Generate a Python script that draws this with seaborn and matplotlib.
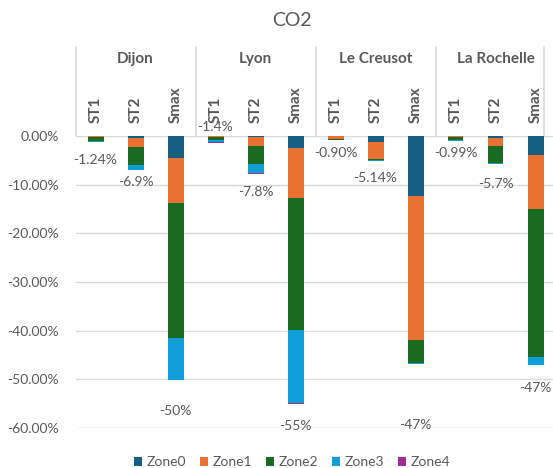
import numpy as np
import pandas as pd
import matplotlib
matplotlib.use("Agg")
import matplotlib.pyplot as plt
from matplotlib.patches import Patch
import seaborn as sns

# ---- data -------------------------------------------------------------
sites = ["Dijon", "Lyon", "Le Creusot", "La Rochelle"]
scenarios = ["ST1", "ST2", "Smax"]
zones = ["Zone0", "Zone1", "Zone2", "Zone3", "Zone4"]

# CO2 change (%) per zone, order: site x scenario
zone0 = [-0.05, -0.50, -4.45, -0.10, -0.25, -2.40, -0.05, -1.23, -12.30, -0.05, -0.50, -3.90]
zone1 = [-0.15, -1.70, -9.40, -0.15, -1.75, -10.40, -0.60, -3.42, -29.70, -0.25, -1.50, -11.10]
zone2 = [-0.90, -3.80, -27.75, -0.60, -3.75, -27.10, -0.20, -0.35, -4.60, -0.60, -3.50, -30.40]
zone3 = [-0.14, -0.90, -8.60, -0.45, -1.95, -15.00, -0.05, -0.14, -0.20, -0.09, -0.20, -1.60]
zone4 = [0.00, 0.00, 0.00, -0.10, -0.10, -0.15, 0.00, 0.00, 0.00, 0.00, 0.00, 0.00]

# decimals shown in each total label
label_decimals = [2, 1, 0, 1, 1, 0, 2, 2, 0, 2, 1, 0]
# vertical placement of each total label (in %)
label_y = [-4.9, -9.45, -56.6, 1.85, -11.5, -59.5, -3.5, -8.6, -59.3, -3.5, -9.9, -51.7]

colors = ["#156082", "#E97132", "#196B24", "#0F9ED5", "#A02B93"]
TXT = "#595959"
GRID = "#D9D9D9"

# ---- figure -----------------------------------------------------------
sns.set_theme(style="white")
plt.rcParams["font.family"] = ["Lato", "DejaVu Sans"]

W, H = 553, 468
fig = plt.figure(figsize=(W / 100, H / 100), dpi=100)
ax_left, ax_right, ax_top, ax_bot = 75.5, 555.5, 136, 428
ax = fig.add_axes([ax_left / W, 1 - ax_bot / H, (ax_right - ax_left) / W, (ax_bot - ax_top) / H])

keys = [f"{s}|{c}" for s in sites for c in scenarios]
vals = np.array([zone0, zone1, zone2, zone3, zone4])
cum = np.cumsum(vals, axis=0)

rows = []
for zi, z in enumerate(zones):
    for ki, k in enumerate(keys):
        rows.append({"key": k, "zone": z, "cum": cum[zi, ki]})
df = pd.DataFrame(rows)

# stacked bars: draw the deepest cumulative level first
for zi in range(len(zones) - 1, -1, -1):
    sub = df[df["zone"] == zones[zi]]
    sns.barplot(data=sub, x="key", y="cum", order=keys, color=colors[zi],
                saturation=1, width=0.4, errorbar=None, linewidth=0,
                ax=ax, zorder=3)

ax.set_xlim(-0.5, len(keys) - 0.5)
ax.set_ylim(-60, 0)
ax.set_yticks(np.arange(-60, 1, 10))
ax.set_yticklabels([f"{v:.2f}%" for v in np.arange(-60, 1, 10)],
                   color=TXT, fontsize=10)
ax.tick_params(axis="y", length=0, pad=12)
ax.set_xticks([])
ax.set_xlabel("")
ax.set_ylabel("")
for sp in ax.spines.values():
    sp.set_visible(False)
ax.yaxis.grid(True, color=GRID, linewidth=1, zorder=0)
ax.set_axisbelow(True)

# total labels
totals = vals.sum(axis=0)
for i, (t, d, y) in enumerate(zip(totals, label_decimals, label_y)):
    ax.text(i, y, f"{t:.{d}f}%", ha="center", va="center", color=TXT,
            fontsize=10, zorder=5, clip_on=False)

# multi-level category axis at the top
tr = ax.get_xaxis_transform()
for b in [-0.5, 2.5, 5.5, 8.5, 11.22]:
    ax.plot([b, b], [1.0, 1.305], transform=tr, color=GRID, lw=1.2, clip_on=False)
for gi, s in enumerate(sites):
    ax.text(gi * 3 + 1, 1.264, s, transform=tr, ha="center", va="center",
            fontsize=11, fontweight="bold", color=TXT)
for i, k in enumerate(keys):
    ax.text(i, 1.044, k.split("|")[1], transform=tr, ha="center", va="bottom",
            rotation=90, fontsize=11, fontweight="bold", color=TXT)

fig.text(292 / W, 1 - 21 / H, "CO2", ha="center", va="center", fontsize=14, color=TXT)

handles = [Patch(facecolor=c, edgecolor="none") for c in colors]
fig.legend(handles, zones, loc="center", bbox_to_anchor=(292 / W, 1 - 462 / H),
           ncol=5, frameon=False, fontsize=10, labelcolor=TXT,
           handlelength=0.6, handleheight=0.6, handletextpad=0.3, columnspacing=1.0)

fig.savefig("out.png", dpi=100)
